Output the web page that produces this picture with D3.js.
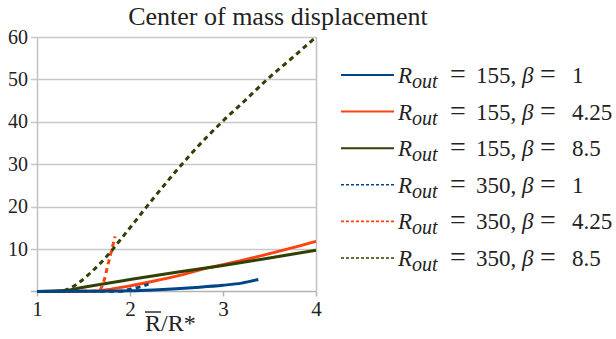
<!DOCTYPE html>
<html>
<head>
<meta charset="utf-8">
<script src="https://cdn.jsdelivr.net/npm/d3@7"></script>
<style>
  body { margin: 0; background: #fff; }
</style>
</head>
<body>
<div id="chart"></div>
<script>
// data
var xTicks = [1, 2, 3, 4]
var yTicks = [10, 20, 30, 40, 50, 60]

var blue155X = [1, 1.5, 2, 2.25, 2.5, 2.75, 3, 3.2, 3.38]
var blue155Y = [0, 0.02, 0.15, 0.35, 0.65, 1.0, 1.45, 1.95, 2.8]

var orange155X = [1, 1.6, 1.75, 2, 2.25, 2.5, 2.85, 3, 3.5, 4]
var orange155Y = [0, 0.05, 0.4, 1.3, 2.4, 3.6, 5.6, 6.3, 8.9, 11.8]

var green155X = [1, 1.3, 1.5, 2, 2.5, 3, 3.5, 4]
var green155Y = [0, 0.2, 1.0, 2.8, 4.5, 6.1, 7.9, 9.7]

var blue350X = [1, 1.9, 2, 2.1, 2.2]
var blue350Y = [0, 0.05, 0.5, 1.0, 1.7]

var orange350X = [1, 1.6, 1.68, 1.72, 1.76, 1.8, 1.84]
var orange350Y = [0, 0, 0.5, 2.5, 6, 9.5, 13]

var green350X = [1, 1.25, 1.33, 1.44, 1.6, 1.76, 1.89, 2, 2.25, 2.5, 2.68, 3, 3.25, 3.5, 3.75, 4]
var green350Y = [0, 0, 0.5, 1.9, 4.9, 8.5, 12, 15, 21.9, 28.5, 33, 40.2, 45.3, 50.5, 55.2, 60]

var rOut = ["155", "155", "155", "350", "350", "350"]
var betas = ["1", "4.25", "8.5", "1", "4.25", "8.5"]
var colors = ["#004586", "#ff420e", "#314004", "#004586", "#ff420e", "#314004"]
var dashed = [false, false, false, true, true, true]

function zip(xs, ys) { return xs.map(function (x, i) { return [x, ys[i]] }) }
var series = [
  zip(blue155X, blue155Y), zip(orange155X, orange155Y), zip(green155X, green155Y),
  zip(blue350X, blue350Y), zip(orange350X, orange350Y), zip(green350X, green350Y)
]

var FONT = "Liberation Serif"
var W = 616, H = 339
var svg = d3.select("#chart").append("svg")
  .attr("width", W).attr("height", H)
  .attr("font-family", FONT)

var x = d3.scaleLinear().domain([1, 4]).range([37, 316])
var y = d3.scaleLinear().domain([0, 60]).range([291.4, 37])

// title
svg.append("text")
  .attr("x", 278).attr("y", 25)
  .attr("text-anchor", "middle")
  .attr("font-family", FONT).attr("font-size", 26).attr("fill", "#222")
  .text("Center of mass displacement")

// grid lines
svg.append("g").selectAll("line")
  .data(yTicks).enter().append("line")
  .attr("x1", 31).attr("x2", x(4))
  .attr("y1", function (d) { return Math.round(y(d)) + 0.5 })
  .attr("y2", function (d) { return Math.round(y(d)) + 0.5 })
  .attr("stroke", "#c8c8c8").attr("stroke-width", 1.5)

// left and right frame
svg.append("g").selectAll("line")
  .data([1, 4]).enter().append("line")
  .attr("x1", function (d) { return Math.round(x(d)) + 0.5 })
  .attr("x2", function (d) { return Math.round(x(d)) + 0.5 })
  .attr("y1", y(60)).attr("y2", y(0))
  .attr("stroke", "#c0c0c0").attr("stroke-width", 1.5)

// x axis
var xAxis = svg.append("g")
  .attr("transform", "translate(0," + (Math.round(y(0)) + 0.5) + ")")
  .call(d3.axisBottom(x).tickValues(xTicks).tickSize(5).tickSizeOuter(0).tickFormat(d3.format("d")))
xAxis.attr("font-family", FONT).attr("font-size", 20)
xAxis.select(".domain").attr("stroke", "#b3b3b3").attr("stroke-width", 1.5)
  .attr("d", "M31,0H" + x(4))
xAxis.selectAll(".tick line").attr("stroke", "#b3b3b3").attr("stroke-width", 1.5)
xAxis.selectAll(".tick text")
  .attr("font-family", FONT).attr("font-size", 21)
  .attr("fill", "#222").attr("y", 24).attr("dy", null)

// y labels
svg.append("g").selectAll("text")
  .data(yTicks).enter().append("text")
  .attr("x", 28)
  .attr("y", function (d) { return y(d) + 6.5 })
  .attr("text-anchor", "end")
  .attr("font-family", FONT).attr("font-size", 20).attr("fill", "#222")
  .text(function (d) { return d })

// x axis title  R̄/R*
var xt = svg.append("text")
  .attr("x", 145).attr("y", 331)
  .attr("font-family", FONT).attr("font-size", 24).attr("fill", "#222")
var rBar = xt.append("tspan").text("R")
xt.append("tspan").text("/R*")
var rw = rBar.node().getComputedTextLength()
svg.append("line")
  .attr("x1", 145).attr("x2", 145 + rw)
  .attr("y1", 312).attr("y2", 312)
  .attr("stroke", "#222").attr("stroke-width", 1.4)

// lines
var line = d3.line()
  .x(function (d) { return x(d[0]) })
  .y(function (d) { return y(d[1]) })
  .curve(d3.curveMonotoneX)

var drawOrder = [1, 2, 3, 4, 5, 0]
svg.append("g").selectAll("path")
  .data(drawOrder).enter().append("path")
  .attr("d", function (i) { return line(series[i]) })
  .attr("fill", "none")
  .attr("stroke", function (i) { return colors[i] })
  .attr("stroke-width", 3)
  .attr("stroke-dasharray", function (i) { return dashed[i] ? "5,4" : null })

// legend
var legend = svg.append("g").selectAll("g")
  .data(d3.range(6)).enter().append("g")
  .attr("transform", function (i) { return "translate(0," + (75 + i * 36.6) + ")" })

legend.append("line")
  .attr("x1", 341).attr("x2", 394)
  .attr("y1", 0).attr("y2", 0)
  .attr("stroke", function (i) { return colors[i] })
  .attr("stroke-width", function (i) { return dashed[i] ? 1.6 : 2 })
  .attr("stroke-dasharray", function (i) { return dashed[i] ? "3,2" : null })

var lt = legend.append("text")
  .attr("y", 8)
  .attr("font-family", FONT).attr("font-size", 23).attr("fill", "#222")
lt.append("tspan").attr("x", 398).attr("font-style", "italic").text("R")
lt.append("tspan").attr("x", 412).attr("dy", 5).attr("font-style", "italic").attr("font-size", 20).text("out")
lt.append("tspan").attr("x", 450).attr("dy", -5).attr("font-size", 28).text("=")
lt.append("tspan").attr("x", 476).text(function (i) { return rOut[i] + "," })
lt.append("tspan").attr("x", 522).attr("font-style", "italic").text("β")
lt.append("tspan").attr("x", 540).attr("font-size", 28).text("=")
lt.append("tspan").attr("x", 572).text(function (i) { return betas[i] })
</script>
</body>
</html>
